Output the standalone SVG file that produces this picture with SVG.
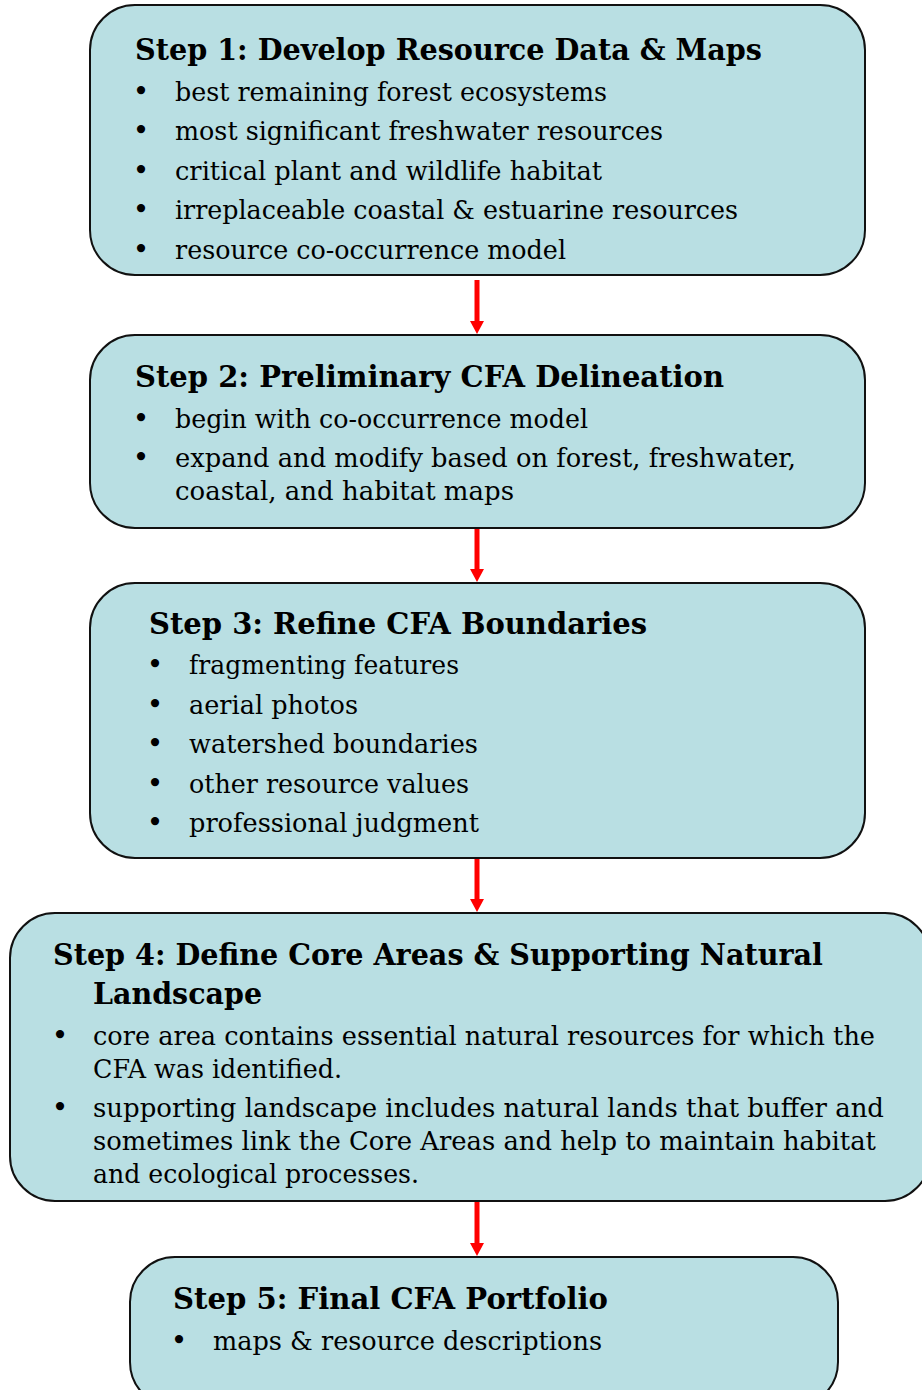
<svg xmlns="http://www.w3.org/2000/svg" width="922" height="1390" viewBox="0 0 922 1390">
<defs>
<style>
.box{fill:#b9dfe3;stroke:#111;stroke-width:2}
.t{font-family:"DejaVu Serif","Liberation Serif",serif;font-weight:bold;font-size:29px;fill:#000}
.b{font-family:"DejaVu Serif","Liberation Serif",serif;font-size:26px;fill:#000}
.dot{font-family:"DejaVu Serif","Liberation Serif",serif;font-size:28px;fill:#000;text-anchor:middle}
.arr{stroke:#ff0000;stroke-width:5;fill:none}
.head{fill:#ff0000}
</style>
</defs>
<rect width="922" height="1390" fill="#fff"/>
<g id="connectors">
<line class="arr" x1="477" y1="280" x2="477" y2="322"/>
<polygon class="head" points="470,321 484,321 477,334"/>
<line class="arr" x1="477" y1="529" x2="477" y2="570"/>
<polygon class="head" points="470,569 484,569 477,582"/>
<line class="arr" x1="477" y1="859" x2="477" y2="900"/>
<polygon class="head" points="470,899 484,899 477,912"/>
<line class="arr" x1="477" y1="1202" x2="477" y2="1244"/>
<polygon class="head" points="470,1243 484,1243 477,1256"/>
</g>
<g id="step1">
<rect class="box" x="90" y="5" width="775" height="270" rx="45" ry="45"/>
<text class="t" x="135" y="60" textLength="627" lengthAdjust="spacingAndGlyphs">Step 1: Develop Resource Data &amp; Maps</text>
<text class="dot" x="141" y="101">•</text>
<text class="b" x="175" y="101" textLength="432" lengthAdjust="spacingAndGlyphs">best remaining forest ecosystems</text>
<text class="dot" x="141" y="140">•</text>
<text class="b" x="175" y="140" textLength="488" lengthAdjust="spacingAndGlyphs">most significant freshwater resources</text>
<text class="dot" x="141" y="180">•</text>
<text class="b" x="175" y="180" textLength="427" lengthAdjust="spacingAndGlyphs">critical plant and wildlife habitat</text>
<text class="dot" x="141" y="219">•</text>
<text class="b" x="175" y="219" textLength="563" lengthAdjust="spacingAndGlyphs">irreplaceable coastal &amp; estuarine resources</text>
<text class="dot" x="141" y="259">•</text>
<text class="b" x="175" y="259" textLength="391" lengthAdjust="spacingAndGlyphs">resource co-occurrence model</text>
</g>
<g id="step2">
<rect class="box" x="90" y="335" width="775" height="193" rx="45" ry="45"/>
<text class="t" x="135" y="387" textLength="589" lengthAdjust="spacingAndGlyphs">Step 2: Preliminary CFA Delineation</text>
<text class="dot" x="141" y="428">•</text>
<text class="b" x="175" y="428" textLength="413" lengthAdjust="spacingAndGlyphs">begin with co-occurrence model</text>
<text class="dot" x="141" y="467">•</text>
<text class="b" x="175" y="467" textLength="621" lengthAdjust="spacingAndGlyphs">expand and modify based on forest, freshwater,</text>
<text class="b" x="175" y="500" textLength="339" lengthAdjust="spacingAndGlyphs">coastal, and habitat maps</text>
</g>
<g id="step3">
<rect class="box" x="90" y="583" width="775" height="275" rx="45" ry="45"/>
<text class="t" x="149" y="634" textLength="498" lengthAdjust="spacingAndGlyphs">Step 3: Refine CFA Boundaries</text>
<text class="dot" x="155" y="674">•</text>
<text class="b" x="189" y="674" textLength="270" lengthAdjust="spacingAndGlyphs">fragmenting features</text>
<text class="dot" x="155" y="714">•</text>
<text class="b" x="189" y="714" textLength="169" lengthAdjust="spacingAndGlyphs">aerial photos</text>
<text class="dot" x="155" y="753">•</text>
<text class="b" x="189" y="753" textLength="289" lengthAdjust="spacingAndGlyphs">watershed boundaries</text>
<text class="dot" x="155" y="793">•</text>
<text class="b" x="189" y="793" textLength="280" lengthAdjust="spacingAndGlyphs">other resource values</text>
<text class="dot" x="155" y="832">•</text>
<text class="b" x="189" y="832" textLength="290" lengthAdjust="spacingAndGlyphs">professional judgment</text>
</g>
<g id="step4">
<rect class="box" x="10" y="913" width="920" height="288" rx="45" ry="45"/>
<text class="t" x="53" y="965" textLength="770" lengthAdjust="spacingAndGlyphs">Step 4: Define Core Areas &amp; Supporting Natural</text>
<text class="t" x="93" y="1004" textLength="169" lengthAdjust="spacingAndGlyphs">Landscape</text>
<text class="dot" x="60" y="1045">•</text>
<text class="b" x="93" y="1045" textLength="782" lengthAdjust="spacingAndGlyphs">core area contains essential natural resources for which the</text>
<text class="b" x="93" y="1078" textLength="249" lengthAdjust="spacingAndGlyphs">CFA was identified.</text>
<text class="dot" x="60" y="1117">•</text>
<text class="b" x="93" y="1117" textLength="791" lengthAdjust="spacingAndGlyphs">supporting landscape includes natural lands that buffer and</text>
<text class="b" x="93" y="1150" textLength="783" lengthAdjust="spacingAndGlyphs">sometimes link the Core Areas and help to maintain habitat</text>
<text class="b" x="93" y="1183" textLength="326" lengthAdjust="spacingAndGlyphs">and ecological processes.</text>
</g>
<g id="step5">
<rect class="box" x="130" y="1257" width="708" height="150" rx="45" ry="45"/>
<text class="t" x="173" y="1309" textLength="435" lengthAdjust="spacingAndGlyphs">Step 5: Final CFA Portfolio</text>
<text class="dot" x="179" y="1350">•</text>
<text class="b" x="213" y="1350" textLength="389" lengthAdjust="spacingAndGlyphs">maps &amp; resource descriptions</text>
</g>
</svg>
